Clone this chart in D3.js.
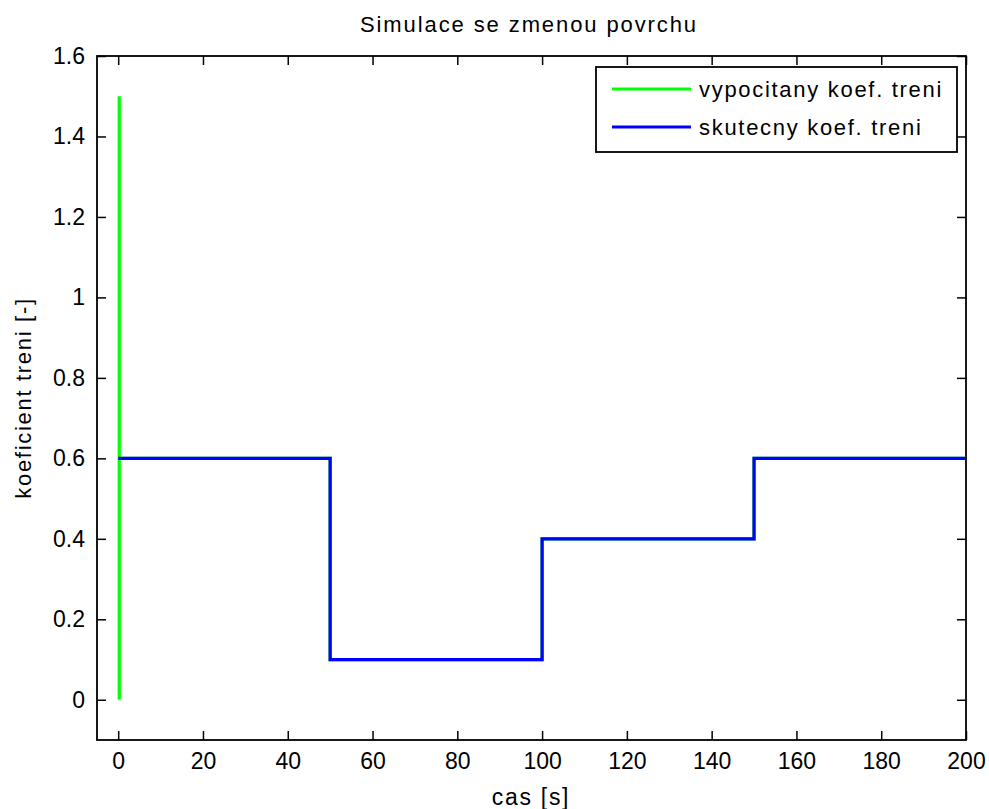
<!DOCTYPE html>
<html>
<head>
<meta charset="utf-8">
<script src="https://cdn.jsdelivr.net/npm/d3@7"></script>
<style>
  body { margin: 0; background: #fff; }
  svg text { font-family: "Liberation Sans", Arial, sans-serif; fill: #000; }
</style>
</head>
<body>
<svg width="989" height="809"></svg>
<script>
// step times and friction values
var stepTimes = [0, 50, 100, 150, 200];
var realCoef = [0.6, 0.1, 0.4, 0.6, 0.6];      // skutecny koef. treni
// computed coefficient: spike at start, then tracks the real steps (hidden under blue)
var calcTimes = [0.25, 0.25, 0.25, 50, 50, 100, 100, 150, 150, 200];
var calcCoef = [0, 1.5, 0.6, 0.6, 0.1, 0.1, 0.4, 0.4, 0.6, 0.6];   // vypocitany koef. treni
var xTicks = [0, 20, 40, 60, 80, 100, 120, 140, 160, 180, 200];
var yTicks = [0, 0.2, 0.4, 0.6, 0.8, 1, 1.2, 1.4, 1.6];
var legendNames = ["vypocitany koef. treni", "skutecny koef. treni"];
var legendColors = ["#00ff00", "#0000ff"];

var svg = d3.select("svg");
var plotL = 97, plotR = 966, plotT = 56, plotB = 740;

var xScale = d3.scaleLinear().domain([-5, 200]).range([plotL, plotR]);
var yScale = d3.scaleLinear().domain([-0.1, 1.6]).range([plotB, plotT]);

// axes with inward ticks, MATLAB box style
var tickFs = "23px", labelFs = "22px", spacing = "1.7px";
var xAxis = svg.append("g").attr("transform", "translate(0," + plotB + ")")
  .call(d3.axisBottom(xScale).tickValues(xTicks).tickSizeInner(-9).tickSizeOuter(0).tickPadding(13));
var xTop = svg.append("g").attr("transform", "translate(0," + plotT + ")")
  .call(d3.axisTop(xScale).tickValues(xTicks).tickSizeInner(-9).tickSizeOuter(0).tickFormat(""));
var yAxis = svg.append("g").attr("transform", "translate(" + plotL + ",0)")
  .call(d3.axisLeft(yScale).tickValues(yTicks).tickSizeInner(-9).tickSizeOuter(0).tickPadding(12)
    .tickFormat(function(d) { return String(+d.toFixed(1)); }));
var yRight = svg.append("g").attr("transform", "translate(" + plotR + ",0)")
  .call(d3.axisRight(yScale).tickValues(yTicks).tickSizeInner(-9).tickSizeOuter(0).tickFormat(""));

[xAxis, xTop, yAxis, yRight].forEach(function(g) {
  g.select(".domain").remove();
  g.selectAll("line").attr("stroke", "#000").attr("stroke-width", 1.5);
  g.selectAll("text").style("font-size", tickFs).style("font-family", "Liberation Sans, Arial, sans-serif");
});

// box
svg.append("rect")
  .attr("x", plotL).attr("y", plotT)
  .attr("width", plotR - plotL).attr("height", plotB - plotT)
  .attr("fill", "none").attr("stroke", "#000").attr("stroke-width", 1.8);

svg.append("clipPath").attr("id", "clip").append("rect")
  .attr("x", plotL).attr("y", plotT).attr("width", plotR - plotL).attr("height", plotB - plotT);

var plot = svg.append("g").attr("clip-path", "url(#clip)");

var calcLine = d3.line()
  .x(function(d, i) { return xScale(calcTimes[i]); })
  .y(function(d) { return yScale(d); });

plot.append("path")
  .attr("d", calcLine(calcCoef))
  .attr("fill", "none")
  .attr("stroke", legendColors[0])
  .attr("stroke-width", 3.2);

var realLine = d3.line()
  .x(function(d, i) { return xScale(stepTimes[i]); })
  .y(function(d) { return yScale(d); })
  .curve(d3.curveStepAfter);

plot.append("path")
  .attr("d", realLine(realCoef))
  .attr("fill", "none")
  .attr("stroke", legendColors[1])
  .attr("stroke-width", 3.2);

// legend
var legend = svg.append("g");
legend.append("rect")
  .attr("x", 596).attr("y", 67).attr("width", 361).attr("height", 85)
  .attr("fill", "#fff").attr("stroke", "#000").attr("stroke-width", 1.8);

legendNames.forEach(function(name, i) {
  var y = 89 + i * 38;
  legend.append("line")
    .attr("x1", 612).attr("x2", 691).attr("y1", y).attr("y2", y)
    .attr("stroke", legendColors[i]).attr("stroke-width", 3.2);
  legend.append("text")
    .attr("x", 699).attr("y", y).attr("dy", "0.35em")
    .style("font-size", labelFs).style("letter-spacing", spacing)
    .text(name);
});

// title and labels
svg.append("text")
  .attr("x", 529).attr("y", 24).attr("dy", "0.35em")
  .attr("text-anchor", "middle").style("font-size", labelFs).style("letter-spacing", "1.9px")
  .text("Simulace se zmenou povrchu");

svg.append("text")
  .attr("x", 531).attr("y", 797).attr("dy", "0.35em")
  .attr("text-anchor", "middle").style("font-size", tickFs).style("letter-spacing", spacing)
  .text("cas [s]");

svg.append("text")
  .attr("transform", "translate(23," + ((plotT + plotB) / 2) + ") rotate(-90)")
  .attr("dy", "0.35em")
  .attr("text-anchor", "middle").style("font-size", labelFs).style("letter-spacing", spacing)
  .text("koeficient treni [-]");
</script>
</body>
</html>
